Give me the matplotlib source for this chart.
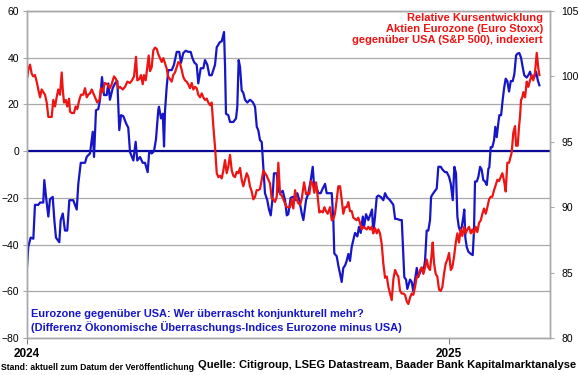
import numpy as np
import pandas as pd
import matplotlib
matplotlib.use("Agg")
from matplotlib import pyplot as plt

plt.rcParams['font.family'] = ['Liberation Sans', 'DejaVu Sans']

START = pd.Timestamp('2024-01-01')

# surprise index difference Eurozone minus USA (left axis), (days since 2024-01-01, value)
surprise_diff = [
    (0.0, -49.7), (1.1, -41), (3.2, -37), (5.5, -37.5), (6.9, -23), (9.8, -23), (11.3, -22), (14.1, -22),
    (15.0, -12.4), (16.5, -19.6), (18.5, -28), (19.9, -20.6), (22.3, -19.6), (23.7, -29.5), (25.1, -37),
    (28.0, -39), (29.2, -29.5), (31.0, -26.7), (32.9, -34), (34.9, -34), (36.7, -21), (40.1, -21),
    (43.1, -25), (44.5, -13.9), (46.6, -5), (50.3, -5), (51.8, -2.4), (54.6, -1), (57.0, 8.3), (58.1, -2.5),
    (59.8, 17.5), (61.8, 18), (63.3, 22), (65.0, 31.7), (66.8, 24), (69.1, 24), (70.5, 29), (71.9, 22),
    (74.3, 27), (76.3, 29), (78.3, 30), (80.0, 9), (81.5, 15.4), (83.5, 15), (85.8, 12), (87.8, 10),
    (89.3, -0.4), (91.0, -2.5), (92.2, -4), (94.2, 4), (95.6, -4), (98.0, -2.5), (100.3, -5), (102.3, -5),
    (104.6, -9), (106.0, 0), (108.1, -1), (110.1, 0), (111.8, 5), (113.8, 17.5),
    (114.4, 19), (116.2, 14), (117.7, 16), (118.8, 2), (119.6, 17), (121.1, 27.5), (122.5, 34.7),
    (125.5, 34.7), (127.4, 37), (129.8, 42.5), (132.0, 42.5), (133.5, 37.8), (135.5, 42), (137.6, 43),
    (139.8, 42.5), (141.9, 42.5), (143.3, 40), (145.0, 38), (147.1, 37), (148.5, 29), (150.6, 35.5),
    (152.9, 35.5), (154.3, 39), (156.3, 37), (158.1, 32.5), (160.1, 32.5), (163.0, 37), (164.5, 44.5),
    (167.3, 46.7), (168.8, 47), (170.8, 51), (171.7, 36), (172.5, 16), (174.5, 15.4), (176.0, 12.5),
    (178.9, 12.5), (181.2, 14), (182.3, 19), (183.5, 39), (184.7, 36), (186.1, 26), (187.5, 25), (189.0, 22),
    (191.0, 20.8), (193.3, 22), (195.7, 21), (197.7, 19), (199.2, 10.4), (200.5, 9), (202.0, 4.7),
    (203.5, 3.9), (204.9, -6.7), (206.3, -18), (208.3, -21), (209.8, -25), (211.3, -27.5), (212.7, -21),
    (214.1, -9.5), (216.5, -9.5), (217.9, -17), (219.4, -18), (221.7, -17), (223.7, -21), (225.2, -27.5),
    (226.5, -27),
    (228.6, -20), (230.9, -19.5), (232.4, -21), (234.3, -18), (236.1, -21), (238.2, -26.7), (239.6, -29.5),
    (241.9, -21), (243.9, -18), (246.0, -12.4), (247.7, -6.7), (248.8, -14.5), (250.6, -15), (252.6, -18),
    (254.6, -18), (256.4, -16), (258.4, -14), (259.8, -18), (262.1, -18), (264.2, -18), (265.6, -30),
    (266.4, -43.8), (268.5, -45), (269.9, -49), (271.4, -52.5), (272.8, -56), (274.2, -50), (275.7, -49),
    (277.1, -47), (278.6, -44), (280.0, -47), (281.5, -41), (282.9, -38), (284.4, -35), (286.4, -36.5),
    (287.8, -32.4), (289.3, -35), (291.1, -28), (292.2, -32.4), (293.9, -27), (295.9, -29.5), (297.4, -27.5),
    (299.1, -25), (300.2, -35), (301.7, -28), (303.2, -19.6), (304.6, -19), (306.7, -19.6), (308.9, -21),
    (310.4, -18), (311.9, -19.6), (314.7, -21), (317.6, -23), (319.1, -29), (320.5, -29), (323.4, -29.5),
    (324.9, -29.5), (326.3, -45), (327.1, -54), (328.6, -55), (329.7, -59), (332.1, -55), (333.5, -56),
    (334.9, -60), (336.4, -55), (337.9, -50), (339.0, -54), (340.7, -52),
    (342.2, -50), (343.6, -52), (345.1, -46.7), (346.5, -34), (347.9, -34), (349.4, -29.5), (350.3, -19.6),
    (351.7, -18.4), (353.7, -17), (355.2, -16), (356.6, -6.7), (358.7, -6.7), (360.4, -8), (362.4, -9),
    (363.9, -9), (365.9, -11), (367.4, -14), (369.1, -21), (370.5, -6.7), (371.9, -9.5), (373.1, -28),
    (374.3, -32.4), (375.4, -34), (376.9, -32.4), (378.3, -28), (379.1, -25), (380.0, -37), (381.2, -41),
    (382.6, -43), (384.7, -44), (386.4, -44.5), (387.5, -34), (388.4, -13), (389.9, -13), (391.3, -11),
    (392.8, -6.7), (394.2, -8), (395.6, -12.4), (397.1, -13), (398.6, -14.5), (400.0, -7.5), (400.8, -7),
    (402.0, 1.7), (403.4, 1.7), (404.9, 4.7), (406.0, 10.4), (407.2, 6), (408.6, 12), (409.5, 15.4),
    (411.0, 15.4), (412.4, 22), (413.6, 27), (415.0, 31), (416.4, 30), (417.9, 25.5), (419.4, 30),
    (421.1, 30), (422.5, 33), (424.0, 41), (425.4, 41.8), (426.8, 42), (428.3, 40), (429.7, 36),
    (431.1, 32.5), (433.2, 31.5), (434.6, 32.5), (436.1, 34), (437.5, 31.5), (439.6, 31.5), (441.3, 34),
    (442.8, 30.4), (444.2, 28.2),
]

# Euro Stoxx relative to S&P 500, indexed (right axis), (days since 2024-01-01, value)
relative_perf = [
    (0.3, 99.95), (1.1, 100.5), (2.6, 100.9), (4.1, 100.2), (5.5, 100.0), (6.9, 100.1), (8.4, 99.6),
    (9.8, 99.0), (11.3, 98.4), (12.7, 99.0), (14.1, 98.8), (15.6, 98.6), (17.1, 98.0), (18.5, 96.9),
    (19.9, 96.9), (21.4, 96.9), (22.8, 98.2), (24.3, 97.7), (25.7, 98.4), (27.1, 99.0), (28.6, 98.6),
    (30.1, 100.3), (31.0, 99.0), (32.1, 98.0), (33.6, 98.2), (34.9, 97.7), (36.4, 98.3), (37.3, 97.3),
    (38.8, 97.2), (40.7, 97.2), (42.2, 97.7), (43.6, 97.5), (45.3, 98.2), (46.8, 98.6), (48.8, 98.6),
    (50.3, 99.1), (51.8, 98.4), (53.1, 98.6), (54.6, 98.7), (56.1, 99.0), (57.5, 98.7), (59.0, 98.4),
    (60.9, 98.0), (62.7, 98.2), (64.2, 99.1), (65.6, 98.8), (67.6, 99.5), (69.6, 99.4), (71.9, 99.1),
    (73.4, 99.4), (75.4, 100.0), (77.2, 99.8), (79.2, 99.1), (80.6, 99.2), (83.0, 99.0), (85.0, 99.2),
    (87.0, 99.6), (89.3, 99.5), (91.0, 99.7), (92.8, 100.0), (94.5, 101.5), (95.6, 99.7), (97.4, 99.8),
    (98.8, 100.1), (100.3, 99.4), (101.4, 100.1), (102.9, 99.7), (104.3, 100.7), (105.5, 101.6),
    (106.6, 100.4), (108.1, 100.7), (109.5, 102.0), (111.0, 102.2), (112.5, 102.1), (113.8, 101.7),
    (115.3, 101.4), (116.8, 101.1), (118.2, 101.4), (119.6, 101.0), (121.1, 100.6), (122.5, 99.95),
    (123.9, 99.8), (125.4, 99.6), (126.8, 100.1), (128.3, 100.3), (129.7, 100.7), (131.2, 101.1),
    (132.6, 101.0), (134.1, 100.5), (135.5, 99.95), (137.0, 99.7), (138.4, 99.6), (139.8, 99.4),
    (141.3, 99.1), (142.8, 99.5), (144.2, 99.0), (145.7, 99.2), (147.1, 99.1), (148.5, 98.6), (150.0, 98.4),
    (151.5, 98.7), (152.9, 98.4), (154.3, 98.2), (155.8, 98.3), (157.2, 98.0), (158.7, 97.8), (160.1, 98.0),
    (161.6, 96.1), (163.0, 94.6), (164.5, 92.6), (165.9, 92.3), (167.3, 92.4), (168.8, 92.2), (170.2, 92.8),
    (171.7, 93.6), (173.1, 92.6), (174.5, 93.1), (176.0, 94.0), (177.5, 92.8), (178.9, 92.4), (180.3, 92.3),
    (181.8, 92.7), (183.2, 92.6), (184.7, 93.0), (186.1, 92.1), (187.5, 91.6), (189.0, 92.1), (190.5, 92.6),
    (191.9, 92.3), (193.3, 91.6), (194.8, 91.2), (196.2, 90.6), (197.7, 90.8), (199.1, 91.3), (200.5, 91.3),
    (202.0, 91.4), (203.5, 92.1), (204.9, 92.8), (206.3, 92.6), (207.8, 92.4), (209.2, 92.1), (210.7, 91.8),
    (212.1, 90.7), (213.5, 90.6), (215.0, 90.4), (216.5, 90.8), (217.9, 93.4), (219.4, 91.0), (220.8, 90.9),
    (222.2, 90.6), (223.7, 90.3), (225.1, 90.0), (226.5, 90.0),
    (228.0, 90.0), (229.5, 90.6), (230.9, 89.9), (232.4, 91.3), (233.8, 90.6), (235.2, 90.3), (236.7, 90.2),
    (238.1, 90.6), (240.2, 91.9), (241.9, 91.0), (243.4, 91.1), (244.8, 91.0), (246.2, 92.0), (247.7, 91.8),
    (249.1, 91.1), (250.6, 91.9), (252.0, 90.8), (253.4, 89.6), (254.9, 89.7), (256.4, 89.6), (257.8, 90.0),
    (259.2, 89.7), (260.7, 89.5), (262.7, 90.0), (264.2, 89.0), (265.6, 89.1), (267.0, 89.5), (268.5, 90.6),
    (269.9, 91.6), (271.4, 91.6), (272.8, 90.6), (274.2, 89.5), (275.7, 90.0), (277.1, 90.0), (278.6, 90.4),
    (280.0, 89.7), (281.5, 89.7), (282.9, 89.2), (284.4, 89.1), (285.8, 89.0), (287.2, 89.2), (288.7, 88.8),
    (290.2, 88.3), (291.6, 88.5), (293.0, 88.4), (294.5, 88.3), (295.9, 88.5), (297.4, 88.3), (298.8, 88.5),
    (300.2, 88.0), (301.7, 88.4), (303.2, 88.0), (304.6, 88.3), (306.0, 88.0), (307.5, 87.2), (308.9, 85.7),
    (310.4, 84.6), (311.9, 84.7), (313.3, 83.9), (314.7, 83.4), (316.2, 82.9), (317.6, 84.5), (319.1, 85.2),
    (320.5, 84.9), (321.9, 84.7), (323.4, 83.6), (324.9, 83.4), (326.3, 83.4), (327.7, 83.3), (329.2, 82.8),
    (330.6, 82.6), (332.1, 83.1), (333.5, 83.4), (334.9, 83.3), (336.4, 83.9), (337.9, 84.7), (339.3, 84.7),
    (340.7, 85.2),
    (342.2, 85.4), (343.6, 84.9), (345.1, 85.4), (346.5, 86.0), (347.9, 85.4), (349.4, 85.2), (350.9, 86.5),
    (351.7, 87.3), (352.9, 85.7), (354.3, 84.9), (355.7, 84.7), (357.2, 83.7), (358.7, 83.6), (360.1, 83.9),
    (361.5, 84.9), (363.0, 85.7), (364.4, 86.0), (365.9, 86.5), (367.4, 85.2), (368.7, 85.4), (370.2, 86.2),
    (371.7, 87.3), (373.1, 88.0), (374.5, 87.3), (376.0, 88.3), (377.4, 87.8), (378.8, 88.5), (380.3, 88.0),
    (381.7, 88.3), (383.2, 88.5), (384.7, 88.0), (386.1, 88.3), (387.5, 88.0), (389.0, 88.5), (390.4, 88.1),
    (391.9, 88.8), (393.4, 89.0), (394.8, 89.5), (396.2, 89.9), (397.7, 89.5), (399.1, 90.0), (400.6, 90.6),
    (402.0, 90.8), (403.4, 90.8), (404.9, 91.3), (406.4, 91.7), (407.8, 92.1), (409.2, 92.0), (410.7, 92.3),
    (412.1, 92.6), (413.6, 92.0), (415.0, 91.2), (416.4, 93.4), (417.9, 93.4), (419.4, 93.9), (420.2, 94.2),
    (421.6, 95.7), (423.1, 96.2), (424.0, 94.7), (425.4, 94.7), (426.6, 96.2), (427.4, 96.9), (428.3, 98.2),
    (429.4, 98.4), (430.3, 98.8), (431.8, 98.4), (433.2, 99.6), (434.6, 99.2), (436.1, 99.7), (437.6, 100.1),
    (438.9, 99.7), (440.4, 100.3), (441.9, 101.8), (443.3, 100.6), (444.2, 100.1),
]

left_ticks = [-80, -60, -40, -20, 0, 20, 40, 60]
right_ticks = [80, 85, 90, 95, 100, 105]
year_ticks = ['2024-01-01', '2025-01-01']
year_labels = ['2024', '2025']

red_title = "Relative Kursentwicklung\nAktien Eurozone (Euro Stoxx)\ngegenüber USA (S&P 500), indexiert"
blue_title = ("Eurozone gegenüber USA: Wer überrascht konjunkturell mehr?\n"
              "(Differenz Ökonomische Überraschungs-Indices Eurozone minus USA)")
source = "Quelle: Citigroup, LSEG Datastream, Baader Bank Kapitalmarktanalyse"
stand = "Stand: aktuell zum Datum der Veröffentlichung"

BLUE = '#1616c8'
RED = '#ee1414'
GRID = '#a8a8a8'


def to_dates(points):
    days, vals = zip(*points)
    return START + pd.to_timedelta(np.array(days), unit='D'), np.array(vals)


fig = plt.figure(figsize=(5.8, 3.75), dpi=100)
ax = fig.add_axes([27 / 580, 1 - 338 / 375, 523 / 580, 327 / 375])
ax2 = ax.twinx()

ax.set_ylim(-80, 60)
ax.set_yticks(left_ticks)
ax.grid(axis='y', color=GRID, lw=0.9)
ax.set_axisbelow(True)
ax.axhline(0, color='#0a0a96', lw=1.6, zorder=2)

bx, by = to_dates(surprise_diff)
ax.plot(bx, by, color=BLUE, lw=1.6, zorder=3)

ax2.set_ylim(80, 105)
ax2.set_yticks(right_ticks)
rx, ry = to_dates(relative_perf)
ax2.plot(rx, ry, color=RED, lw=1.6)

ax.set_xlim(START, START + pd.Timedelta(days=453.4))
ax.set_xticks(pd.to_datetime(year_ticks))
ax.set_xticklabels(year_labels, fontweight='bold', fontsize=8.5)

for a in (ax, ax2):
    for s in a.spines.values():
        s.set_color(GRID)
        s.set_linewidth(1.0)
ax.tick_params(axis='y', direction='out', length=3, color=GRID, labelsize=7.5, pad=2.5)
ax2.tick_params(axis='y', direction='out', length=3, color=GRID, labelsize=7.5, pad=5)
ax.tick_params(axis='x', direction='out', length=4, color='#808080', pad=3)

ax2.text(0.987, 0.995, red_title, transform=ax2.transAxes, ha='right', va='top',
         color=RED, fontsize=8, fontweight='bold', linespacing=1.12)
ax2.text(0.008, 0.015, blue_title, transform=ax2.transAxes, ha='left', va='bottom',
         color=BLUE, fontsize=7.9, fontweight='bold', linespacing=1.2)

fig.text(198 / 580, 1 - 365 / 375, source, ha='left', va='center', fontsize=8, fontweight='bold')
fig.text(0.002, 1 - 368 / 375, stand, ha='left', va='center', fontsize=6.2, fontweight='bold')

fig.savefig('out.png', dpi=100)
